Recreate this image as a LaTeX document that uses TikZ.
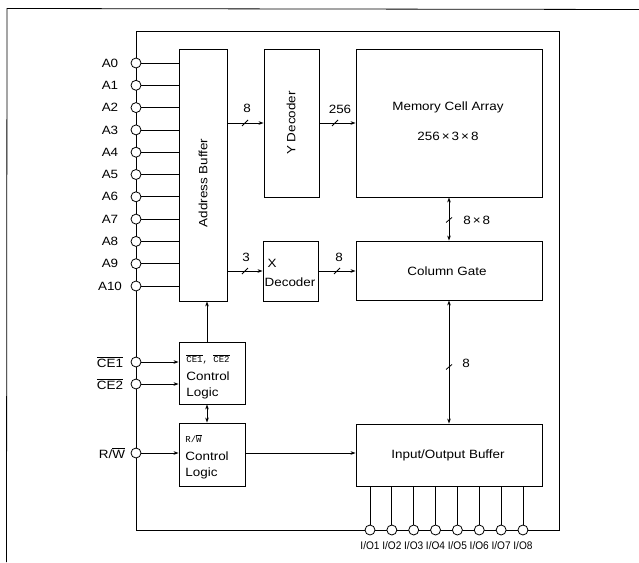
\documentclass[tikz,border=0pt]{standalone}
\usepackage{fontspec}
\setmainfont{Liberation Sans}[FakeStretch=1.12]
\newfontfamily\smallmono{Liberation Mono}
\newfontfamily\iofont{Liberation Sans}[FakeStretch=0.92]
\usetikzlibrary{arrows.meta}
\begin{document}
\begin{tikzpicture}[x=1pt,y=-1pt,line width=0.8pt,
  blk/.style={draw,line width=0.9pt,inner sep=0pt},
  txt/.style={font=\fontsize{12}{14}\selectfont,inner sep=0pt},
  smtxt/.style={font=\smallmono\fontsize{9}{10}\selectfont,inner sep=0pt},
  iotxt/.style={font=\iofont\fontsize{11}{12}\selectfont,inner sep=0pt},
  pinc/.style={circle,draw,fill=white,minimum size=10pt,inner sep=0pt,line width=0.8pt},
  arr/.style={-{Stealth[length=5pt,width=3.6pt]}},
  darr/.style={{Stealth[length=5pt,width=3.6pt]}-{Stealth[length=5pt,width=3.6pt]}}]
\useasboundingbox (0,0) rectangle (639,562);
% page frame
\draw (639,9.5) -- (7,8.5) -- (6.5,562);
% chip frame
\draw (136,31) -- (559,31) -- (559,530) -- (136,530) -- cycle;
% blocks
\node[blk,minimum width=48pt,minimum height=252pt] (ab) at (203,175) {};
\node[txt,rotate=90] (abt) at (203,183) {Address Buffer};
\node[blk,minimum width=55pt,minimum height=148pt] (yd) at (291.5,123) {};
\node[txt,rotate=90] (ydt) at (291,123) {Y Decoder};
\node[blk,minimum width=186pt,minimum height=148pt] (mca) at (449,123) {};
\node[txt] (mcat) at (448,107) {Memory Cell Array};
\node[txt] (mcan) at (448,136) {256\,×\,3\,×\,8};
\node[blk,minimum width=55pt,minimum height=60pt] (xd) at (290.5,271) {};
\node[txt] (xdx) at (272,263) {X};
\node[txt] (xdt) at (290,282) {Decoder};
\node[blk,minimum width=186pt,minimum height=59pt] (cg) at (449,270.5) {};
\node[txt] (cgt) at (447,271) {Column Gate};
\node[blk,minimum width=186pt,minimum height=62pt] (iob) at (449,455) {};
\node[txt] (iobt) at (448,455) {Input/Output Buffer};
\node[blk,minimum width=66pt,minimum height=62pt] (cel) at (212,373) {};
\node[smtxt,anchor=west] (celt) at (186,359) {$\overline{\mbox{\smallmono CE1}}$, $\overline{\mbox{\smallmono CE2}}$};
\node[txt,anchor=west] (celc) at (186,376) {Control};
\node[txt,anchor=west] (cell) at (186,393) {Logic};
\node[blk,minimum width=66pt,minimum height=63pt] (rwl) at (212,454.5) {};
\node[smtxt,anchor=west] (rwlt) at (185,439) {R/$\overline{\mbox{\smallmono W}}$};
\node[txt,anchor=west] (rwlc) at (185,456) {Control};
\node[txt,anchor=west] (rwll) at (185,473) {Logic};
% address pins
\foreach \i [evaluate=\i as \yy using 63+22.3*\i] in {0,...,10} {
  \node[pinc] (a\i) at (136,\yy) {};
  \node[txt] (la\i) at (110,\yy) {A\i};
  \draw (a\i) -- (a\i -| ab.west);
}
% control pins
\node[pinc] (ce1) at (136,362) {};
\node[txt] (lce1) at (110,362) {$\overline{\mbox{CE1}}$};
\node[pinc] (ce2) at (136,384) {};
\node[txt] (lce2) at (110,384) {$\overline{\mbox{CE2}}$};
\node[pinc] (rw) at (136,453) {};
\node[txt] (lrw) at (112,453) {R/$\overline{\mbox{W}}$};
\draw[arr] (ce1) -- (ce1 -| cel.west);
\draw[arr] (ce2) -- (ce2 -| cel.west);
\draw[arr] (rw) -- (rw -| rwl.west);
\draw[arr] ([xshift=-5pt]cel.north) -- ([xshift=-5pt]cel.north |- ab.south);
\draw[darr] ([xshift=-5pt]cel.south) -- ([xshift=-5pt]rwl.north);
\draw[arr] (rwl.east |- rw) -- (iob.west |- rw);
% buses
\draw[arr] (ab.east |- yd) -- (yd.west);
\coordinate (s1) at (245,123);
\draw (s1) ++(-3,3) -- ++(6,-6);
\node[txt] (n1) at (247,108) {8};
\draw[arr] (yd.east) -- (mca.west);
\coordinate (s2) at (335,123);
\draw (s2) ++(-3,3) -- ++(6,-6);
\node[txt] (n2) at (340,109) {256};
\draw[arr] (ab.east |- xd) -- (xd.west);
\coordinate (s3) at (245,271);
\draw (s3) ++(-3,3) -- ++(6,-6);
\node[txt] (n3) at (246,257) {3};
\draw[arr] (xd.east) -- (cg.west |- xd);
\coordinate (s4) at (337,271);
\draw (s4) ++(-3,3) -- ++(6,-6);
\node[txt] (n4) at (339,257) {8};
\draw[darr] (mca.south) -- (cg.north);
\coordinate (s5) at (449,220);
\draw (s5) ++(-3,2.5) -- ++(6,-5);
\node[txt,anchor=west] (n5) at (463,220) {8\,×\,8};
\draw[darr] (cg.south) -- (iob.north);
\coordinate (s6) at (449,367);
\draw (s6) ++(-3,2.5) -- ++(6,-5);
\node[txt] (n6) at (466,363) {8};
% I/O pins
\foreach \i [evaluate=\i as \xx using 370+21.85*(\i-1)] in {1,...,8} {
  \draw (\xx,530) -- (\xx,486);
  \node[pinc] (io\i) at (\xx,530) {};
  \node[iotxt] (lio\i) at (\xx,546) {I/O\i};
}
\end{tikzpicture}
\end{document}
